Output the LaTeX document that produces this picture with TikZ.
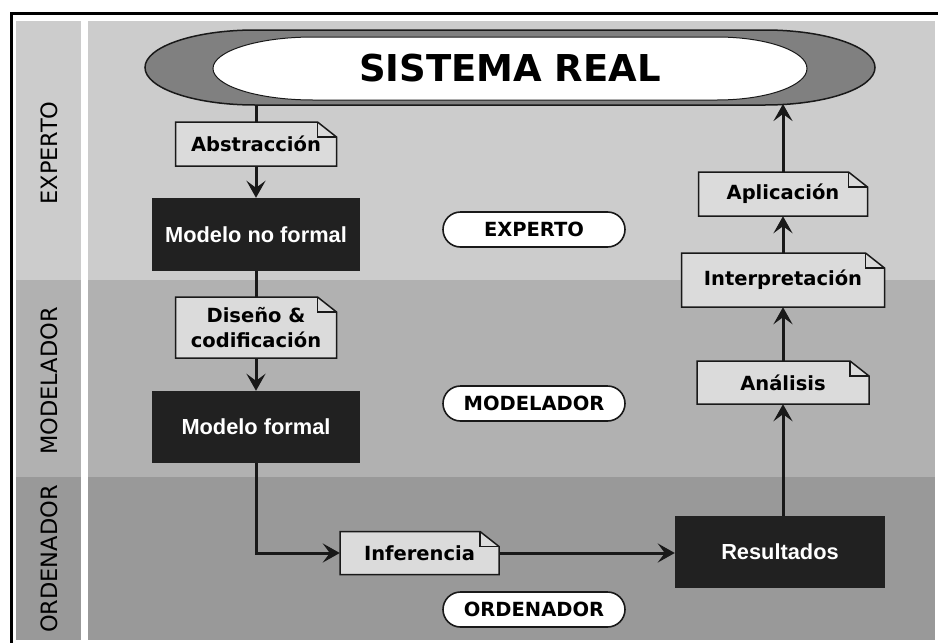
\documentclass[tikz,border=0pt]{standalone}
\usepackage{fontspec}
\setmainfont{DejaVu Sans}
\newfontfamily\arialf{Liberation Sans}
\usetikzlibrary{arrows.meta,calc}
\pgfdeclarelayer{bg}
\pgfdeclarelayer{edges}
\pgfsetlayers{bg,edges,main}
\definecolor{laneA}{gray}{0.80}
\definecolor{laneB}{gray}{0.695}
\definecolor{laneC}{gray}{0.60}
\definecolor{ringgray}{gray}{0.50}
\definecolor{notefillc}{gray}{0.86}
\definecolor{darkline}{gray}{0.10}
\definecolor{boxblack}{gray}{0.13}
\tikzset{
  x=1pt, y=1pt,
  conn/.style={draw=darkline, line width=3pt},
  arrowc/.style={conn, -{Stealth[length=17pt,width=19pt,inset=7pt]}},
  notetext/.style={font=\bfseries\fontsize{19.5}{25}\selectfont, text=black, inner sep=0pt, align=center},
  noteshape/.style={fill=notefillc, draw=darkline, line width=1.5pt, line join=miter},
  blackbox/.style={fill=boxblack, draw=none, text=white, inner sep=0pt, font=\arialf\bfseries\fontsize{21.8}{26}\selectfont},
  laneoval/.style={fill=white, draw=darkline, line width=1.6pt, rounded corners=17.5pt, inner sep=0pt,
    minimum width=182pt, minimum height=35pt, font=\bfseries\fontsize{19.5}{24}\selectfont},
  lanelabel/.style={rotate=90, font=\fontsize{22.5}{26}\selectfont, text=black, inner sep=0pt},
}
\newcommand\notebox[6]{%
  \path[noteshape]
    ({#2-#4/2},{-#3-#5/2}) -- ({#2-#4/2},{-#3+#5/2}) -- ({#2+#4/2-19},{-#3+#5/2})
    -- ({#2+#4/2},{-#3+#5/2-15}) -- ({#2+#4/2},{-#3-#5/2}) -- cycle;
  \draw[darkline, line width=1.5pt] ({#2+#4/2-19},{-#3+#5/2}) -- ({#2+#4/2-19},{-#3+#5/2-15}) -- ({#2+#4/2},{-#3+#5/2-15});
  \node[notetext, minimum width=#4pt, minimum height=#5pt] (#1) at (#2,-#3) {#6};
}
\begin{document}
\begin{tikzpicture}
\useasboundingbox (0,0) rectangle (938,-643);
\begin{pgfonlayer}{bg}
  % frame
  \fill[black] (10,-12) rectangle (938,-643);
  \fill[white] (13,-15) rectangle (938,-643);
  % left column
  \fill[laneA] (16,-21) rectangle (81,-280);
  \fill[laneB] (16,-280) rectangle (81,-477);
  \fill[laneC] (16,-477) rectangle (81,-640);
  % main area
  \fill[laneA] (88,-21) rectangle (935,-280);
  \fill[laneB] (88,-280) rectangle (935,-477);
  \fill[laneC] (88,-477) rectangle (935,-640);
\end{pgfonlayer}

% lane labels
\node[lanelabel] (lblE) at (49,-153) {EXPERTO};
\node[lanelabel] (lblM) at (49,-381) {MODELADOR};
\node[lanelabel] (lblO) at (49,-559) {ORDENADOR};

% sistema real
\path[fill=ringgray, draw=darkline, line width=1.5pt]
  (255,-30) -- (765,-30) arc[start angle=90, end angle=-90, x radius=110, y radius=37.5]
  -- (255,-105) arc[start angle=270, end angle=90, x radius=110, y radius=37.5] -- cycle;
\path[fill=white, draw=darkline, line width=1pt]
  (313,-37) -- (717,-37) arc[start angle=90, end angle=-90, x radius=90, y radius=31.5]
  -- (313,-100) arc[start angle=270, end angle=90, x radius=100, y radius=31.5] -- cycle;
\node[font=\bfseries\fontsize{37}{40}\selectfont, inner sep=0pt] (sys) at (510,-68) {SISTEMA REAL};
\coordinate (sysb) at (256,-105);
\coordinate (sysr) at (783,-104);

% lane ovals
\node[laneoval] (ovE) at (534,-229.5) {EXPERTO};
\node[laneoval] (ovM) at (534,-403.5) {MODELADOR};
\node[laneoval] (ovO) at (534,-609.5) {ORDENADOR};

% left column
\notebox{abs}{256}{144}{161}{44}{Abstracción}
\node[blackbox, minimum width=208pt, minimum height=73pt] (mnf) at (256,-234.5) {Modelo no formal};
\notebox{dis}{256}{327.5}{161}{61}{Diseño \&\\codificación}
\node[blackbox, minimum width=208pt, minimum height=72pt] (mf) at (256,-427) {Modelo formal};

% bottom row
\notebox{inf}{419.5}{553}{159}{43}{Inferencia}
\node[blackbox, minimum width=210pt, minimum height=72pt] (res) at (780,-552) {Resultados};

% right column
\notebox{ana}{783}{382.5}{172}{43}{Análisis}
\notebox{int}{783}{280}{203}{54}{Interpretación}
\notebox{apl}{783}{194}{169}{44}{Aplicación}

\begin{pgfonlayer}{edges}
  \draw[conn] (sysb) -- (abs.north);
  \draw[arrowc] (abs.south) -- (mnf.north);
  \draw[conn] (mnf.south) -- (dis.north);
  \draw[arrowc] (dis.south) -- (mf.north);
  \draw[arrowc] (mf.south) |- (inf.west);
  \draw[arrowc] (inf.east) -- (inf.east -| res.west);
  \draw[arrowc] (res.north -| ana.south) -- (ana.south);
  \draw[arrowc] (ana.north) -- (int.south);
  \draw[arrowc] (int.north) -- (apl.south);
  \draw[arrowc] (apl.north) -- (sysr);
\end{pgfonlayer}
\end{tikzpicture}
\end{document}
